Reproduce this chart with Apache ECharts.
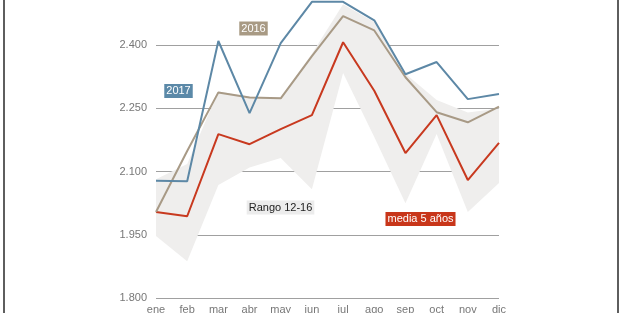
<!DOCTYPE html>
<html>
<head>
<meta charset="utf-8">
<script src="https://cdn.jsdelivr.net/npm/echarts@6/dist/echarts.min.js"></script>
<style>
  html, body { margin: 0; padding: 0; background: #ffffff; }
  #wrap { position: relative; width: 626px; height: 313px; overflow: hidden; }
  #chart { position: absolute; left: 0; top: 0; width: 626px; height: 313px; }
  #frame { position: absolute; left: 3px; top: 0; width: 612px; height: 313px;
           border-left: 2px solid #5e5e5e; border-right: 2px solid #5e5e5e; pointer-events: none; }
</style>
</head>
<body>
<div id="wrap">
  <div id="chart"></div>
  <div id="frame"></div>
</div>
<script>
const months = ['ene', 'feb', 'mar', 'abr', 'may', 'jun', 'jul', 'ago', 'sep', 'oct', 'nov', 'dic'];
const y2017 = [2078, 2077, 2410, 2239, 2405, 2503, 2503, 2459, 2331, 2360, 2272, 2284];
const y2016 = [2004, 2149, 2288, 2276, 2274, 2374, 2469, 2435, 2324, 2241, 2217, 2254];
const media5 = [2004, 1994, 2189, 2165, 2201, 2234, 2407, 2292, 2144, 2234, 2080, 2168];
const rangoLow = [1947, 1887, 2068, 2110, 2132, 2058, 2334, 2182, 2025, 2189, 2004, 2073];
const rangoHigh = [2082, 2118, 2290, 2278, 2276, 2380, 2497, 2455, 2332, 2270, 2240, 2250];
const yTicks = { min: 1800, max: 2550, step: 150 };

const rangoSpan = rangoHigh.map((v, i) => v - rangoLow[i]);
const fmt = v => (v / 1000).toFixed(3);

const chart = echarts.init(document.getElementById('chart'), null, { renderer: 'canvas' });
const lbl = (text, x, y, bg, color) => ({
  type: 'text', x: x, y: y, z: 100,
  style: {
    text: text, fill: color, backgroundColor: bg,
    font: '11px "Liberation Sans", Arial, sans-serif',
    lineHeight: 12, padding: [1, 2], align: 'center', verticalAlign: 'middle'
  }
});
chart.setOption({
  animation: false,
  backgroundColor: '#ffffff',
  grid: { left: 156, right: 127, top: -18, bottom: 15, containLabel: false, outerBoundsMode: 'none' },
  xAxis: {
    type: 'category', data: months, boundaryGap: false,
    axisLine: { show: false }, axisTick: { show: false },
    axisLabel: { color: '#777', fontSize: 11, margin: 6, interval: 0,
                 fontFamily: '"Liberation Sans", Arial, sans-serif' },
    splitLine: { show: false }
  },
  yAxis: {
    type: 'value', min: yTicks.min, max: yTicks.max, interval: yTicks.step,
    axisLine: { show: false }, axisTick: { show: false },
    axisLabel: { color: '#777', fontSize: 11, margin: 9, formatter: fmt,
                 fontFamily: '"Liberation Sans", Arial, sans-serif' },
    splitLine: { show: true, lineStyle: { color: '#a0a0a0', width: 1 } }
  },
  series: [
    { type: 'line', data: rangoLow, stack: 'rango', symbol: 'none',
      lineStyle: { width: 0, opacity: 0 }, silent: true },
    { type: 'line', data: rangoSpan, stack: 'rango', symbol: 'none',
      lineStyle: { width: 0, opacity: 0 },
      areaStyle: { color: '#efeeed', opacity: 1 }, silent: true },
    { type: 'line', name: 'media 5 años', data: media5, symbol: 'none',
      lineStyle: { color: '#c8391f', width: 2 } },
    { type: 'line', name: '2016', data: y2016, symbol: 'none',
      lineStyle: { color: '#a89a86', width: 2 } },
    { type: 'line', name: '2017', data: y2017, symbol: 'none',
      lineStyle: { color: '#5d88a6', width: 2 } }
  ],
  graphic: [
    lbl('2016', 253.5, 28.5, '#a89a84', '#ffffff'),
    lbl('2017', 178.5, 91, '#5b89a8', '#ffffff'),
    lbl('Rango 12-16', 280.5, 207.5, '#ececec', '#222222'),
    lbl('media 5 años', 420.5, 219, '#c8361a', '#ffffff')
  ]
});
</script>
</body>
</html>
